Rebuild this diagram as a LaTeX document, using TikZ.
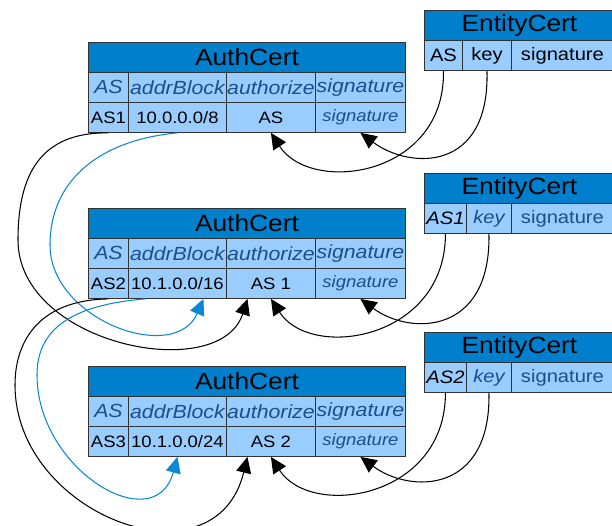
\documentclass[tikz,border=0pt]{standalone}
\usepackage{fontspec}
\setmainfont{Liberation Sans}[FakeStretch=1.12]
\usetikzlibrary{arrows.meta}
\definecolor{titleblue}{RGB}{0,128,204}
\definecolor{cellblue}{RGB}{153,204,255}
\definecolor{txtblue}{RGB}{28,78,140}
\definecolor{lineblue}{RGB}{10,135,215}
\definecolor{edgegray}{RGB}{50,50,50}
\tikzset{
  cell/.style={draw=edgegray, line width=0.9pt, fill=cellblue, inner sep=0pt,
    anchor=north west, minimum height=30pt, font=\fontsize{16.5}{16.5}\selectfont},
  ttl/.style={cell, fill=titleblue, font=\fontsize{23.5}{23.5}\selectfont},
  hdr/.style={cell, text=txtblue, font=\fontsize{19}{19}\selectfont\itshape},
  erow/.style={cell, font=\fontsize{18}{18}\selectfont},
  arr/.style={line width=1.05pt, -{Triangle[length=16pt,width=15pt]}},
  barr/.style={arr, color=lineblue}
}
\newcommand\authcert[5]{%
  \node[ttl, minimum width=317pt] (#1t) at (88,#2) {AuthCert};
  \node[hdr, minimum width=40pt] (#1h1) at (88,#2+30) {AS};
  \node[hdr, minimum width=98pt] (#1h2) at (128,#2+30) {addrBlock};
  \node[hdr, minimum width=89pt] (#1h3) at (226,#2+30) {authorize};
  \node[hdr, minimum width=90pt] (#1h4) at (315,#2+30) {signature};
  \node[cell, minimum width=40pt] (#1as) at (88,#2+60) {#3};
  \node[cell, minimum width=98pt] (#1addr) at (128,#2+60) {#4};
  \node[cell, minimum width=89pt] (#1auth) at (226,#2+60) {#5};
  \node[cell, minimum width=90pt, text=txtblue] (#1sig) at (315,#2+60) {\itshape signature};
}
\newcommand\entitycert[7]{%
  \node[ttl, minimum width=190pt] (#1t) at (424,#2) {EntityCert};
  \node[erow, minimum width=#3pt] (#1as) at (424,#2+30) {#5};
  \node[erow, minimum width=#4pt] (#1key) at (424+#3,#2+30) {#6};
  \node[erow, minimum width=102pt] (#1sig) at (511,#2+30) {#7};
}
\begin{document}
\begin{tikzpicture}[x=1pt,y=-1pt]
\useasboundingbox (0,0) rectangle (612,526);
\clip (0,0) rectangle (612,526);
\fill[white] (0,0) rectangle (612,526);

\authcert{a1}{42}{AS1}{10.0.0.0/8}{AS}
\authcert{a2}{208}{AS2}{10.1.0.0/16}{AS 1}
\authcert{a3}{366}{AS3}{10.1.0.0/24}{AS 2}

\entitycert{e1}{10}{38}{49}{AS}{key}{signature}
\entitycert{e2}{173}{42}{45}{\itshape AS1}{\color{txtblue}\itshape key}{\color{txtblue}signature}
\entitycert{e3}{332}{42}{45}{\itshape AS2}{\color{txtblue}\itshape key}{\color{txtblue}signature}

% entity cert links
\draw[arr] (e1as.south) .. controls +(2,106) and +(40,62) .. (a1auth.south);
\draw[arr] (e1key.south) .. controls +(3,101) and +(50,37) .. (a1sig.south);
\draw[arr] (e2as.south) .. controls +(0,106) and +(40,62) .. (a2auth.south);
\draw[arr] (e2key.south) .. controls +(2,101) and +(50,37) .. (a2sig.south);
\draw[arr] (e3as.south) .. controls +(0,106) and +(40,62) .. (a3auth.south);
\draw[arr] (e3key.south) .. controls +(2,101) and +(50,37) .. (a3sig.south);

% chain links
\draw[arr] (a1as.south) .. controls (40,132) and (18,175) .. (18,240)
  .. controls (18,345) and (220,385) .. ([xshift=-23.5pt]a2auth.south);
\draw[barr] (a1addr.south) .. controls (100,140) and (50,180) .. (50,245)
  .. controls (50,320) and (175,365) .. ([xshift=26pt]a2addr.south);
\draw[arr] (a2as.south) .. controls (40,300) and (15,340) .. (15,385)
  .. controls (15,515) and (215,590) .. ([xshift=-23.5pt]a3auth.south);
\draw[barr] ([xshift=-32pt]a2addr.south) .. controls (70,305) and (37,330) .. (37,375)
  .. controls (37,470) and (155,540) .. (a3addr.south);
\end{tikzpicture}
\end{document}
